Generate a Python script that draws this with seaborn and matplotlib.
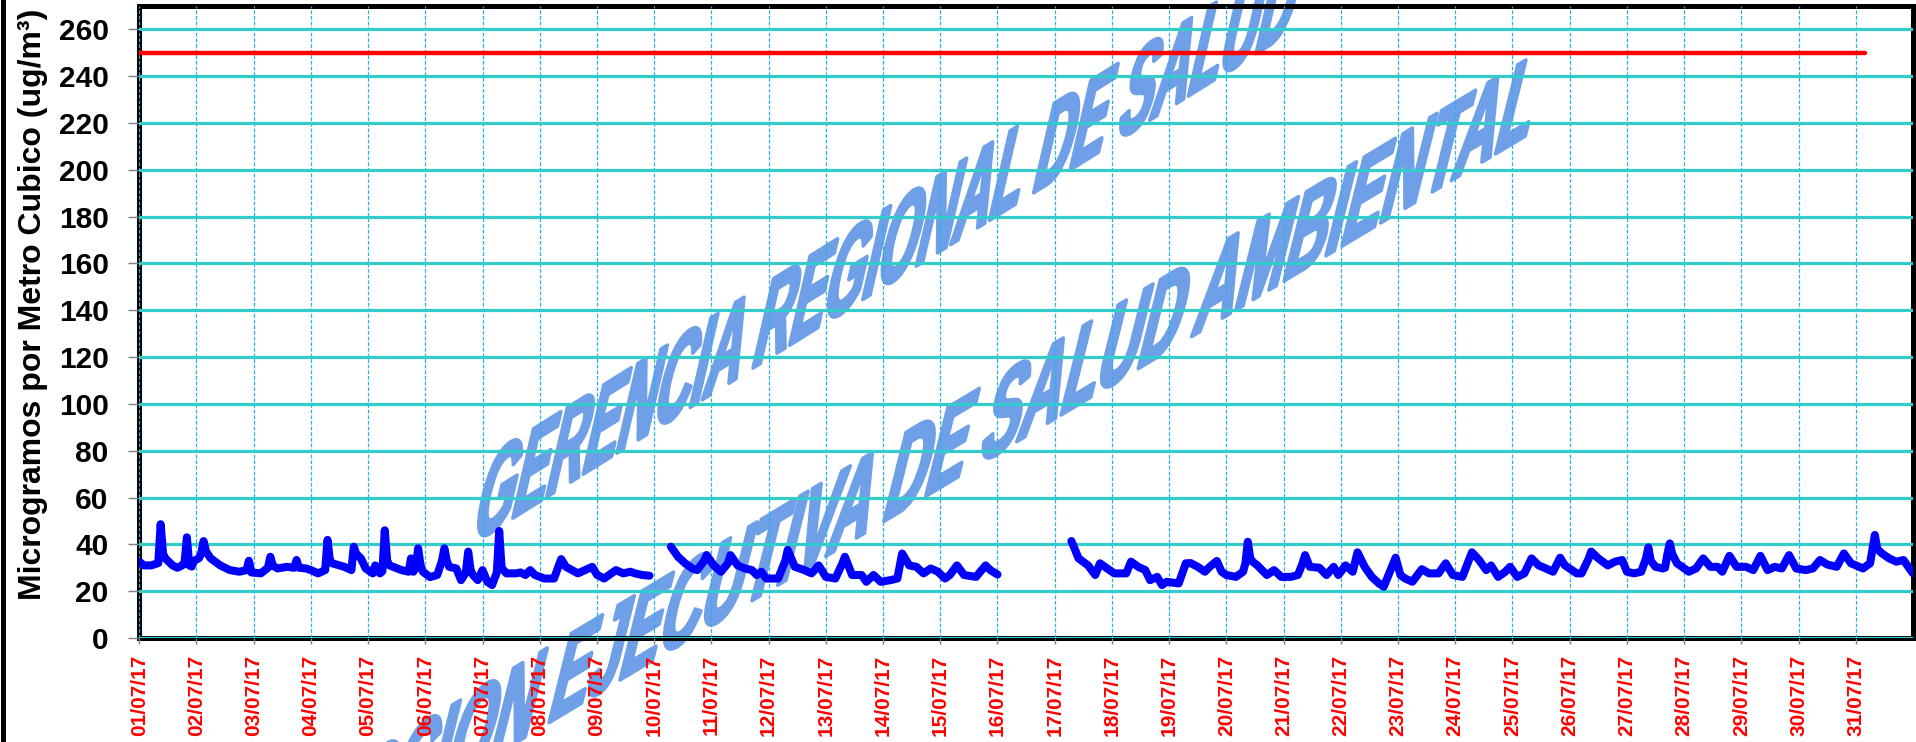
import numpy as np
import pandas as pd
import matplotlib
matplotlib.use("Agg")
import matplotlib.pyplot as plt
import seaborn as sns
from matplotlib.patheffects import AbstractPathEffect
from matplotlib.transforms import Affine2D
from matplotlib.font_manager import FontProperties
from matplotlib.lines import Line2D

# ---------------- data (hour since 01/07/17 00:00, ug/m3) ----------------
seg1_points = [(0, 32.6), (2, 31), (5, 31), (8, 32), (9, 48.6), (10, 36), (11, 34), (14, 31), (16, 30),
               (18, 31), (19, 32), (20, 43), (21, 31), (22, 30.5), (23, 33), (25, 34), (26, 36), (27, 41.4),
               (28, 37), (30, 34), (34, 31), (38, 29), (42, 28.3), (45, 29), (46, 33), (47, 28), (51, 27.6),
               (54, 30), (55, 34.7), (56, 31), (58, 29.7), (62, 30.4), (65, 30), (66, 33.3), (67, 30),
               (70, 29.7), (72, 29), (75, 27.6), (78, 29), (79, 41.9), (80, 33), (81, 31.9), (86, 30.4),
               (89, 29), (90, 39), (91, 36), (93, 34), (95, 29.7), (98, 27.6), (99, 31), (101, 27.6),
               (102, 28.5), (103, 46), (104, 33), (105, 31), (110, 29), (113, 28.3), (114, 34), (115, 28.3),
               (116, 30), (117, 38.3), (118, 31), (119, 28.3), (122, 26), (125, 26.9), (127, 33), (128, 38.3),
               (129, 33), (130, 30.4), (133, 29.7), (135, 24.7), (137, 28), (138, 36.9), (139, 29),
               (140, 26.9), (142, 24.7), (144, 29), (146, 24), (148, 22.6), (150, 28), (151, 45.7), (152, 30),
               (154, 27.6), (158, 27.6), (160, 28), (162, 26.9), (164, 29), (166, 26.9), (170, 25.4),
               (174, 25.4), (176, 31), (177, 33.7), (179, 30.4), (184, 27.6), (187, 29), (190, 30.4),
               (192, 27), (195, 25.4), (200, 29), (203, 27.6), (206, 28.3), (208, 27.6), (211, 26.9),
               (214, 26.6)]
seg2_points = [(223, 39), (226, 34.7), (229, 31.9), (232, 29.7), (234, 29), (237, 33), (238, 35.4), (241, 31),
               (244, 28.3), (247, 32), (248, 35.4), (251, 31), (254, 29.7), (257, 29), (259, 26.9),
               (261, 28.3), (263, 25.4), (268, 25.4), (271, 33), (272, 37.6), (275, 30.4), (279, 29),
               (282, 27.6), (285, 31), (288, 26.1), (292, 25.4), (295, 32), (296, 34.7), (299, 26.9),
               (303, 26.9), (305, 24), (308, 26.9), (311, 24), (315, 24.7), (318, 25.4), (320, 36.1),
               (323, 31), (326, 30.4), (329, 27.6), (332, 29.7), (335, 28.3), (338, 25.4), (340, 26.9),
               (343, 31), (346, 26.9), (351, 26.1), (355, 31), (357, 29), (360, 27.1)]
seg3_points = [(391, 41.4), (392, 39), (394, 34), (398, 31), (401, 26.9), (403, 31.9), (406, 29.7), (409, 27.6),
               (414, 27.6), (416, 32.6), (419, 30.4), (422, 29), (424, 24.7), (427, 26.1), (429, 22.6),
               (431, 24), (436, 23.3), (439, 31.9), (441, 32), (444, 30.4), (447, 28.3), (449, 30.4),
               (452, 32.9), (454, 28.3), (456, 26.9), (460, 26.1), (463, 28.3), (464, 32), (465, 41.1),
               (466, 34), (467, 32.6), (469, 31), (473, 26.9), (476, 29), (479, 26.1), (483, 26.1),
               (486, 26.9), (488, 32), (489, 35.4), (491, 30.4), (495, 30), (498, 26.9), (501, 30.4),
               (503, 26.9), (506, 31), (509, 28.3), (511, 36.6), (514, 30.4), (517, 26.1), (520, 23.3),
               (522, 21.9), (524, 26.9), (526, 32), (527, 34.3), (529, 26.9), (531, 25.4), (534, 24),
               (538, 29.4), (541, 27.6), (545, 27.6), (548, 31.9), (551, 26.9), (555, 26.1), (558, 34),
               (559, 36.6), (562, 33.3), (565, 29), (567, 31), (570, 26.1), (573, 28.3), (575, 30.4),
               (578, 26.1), (581, 27.6), (584, 34), (587, 31), (590, 29.7), (593, 28.3), (596, 34.3),
               (598, 31), (603, 27.6), (605, 27.6), (608, 34), (609, 36.9), (612, 34), (616, 31),
               (619, 32.6), (622, 33.3), (624, 28.3), (627, 27.6), (630, 28.3), (632, 34), (633, 38.7),
               (634, 33), (636, 30.4), (639, 29.7), (640, 30), (641, 36), (642, 40.4), (643, 36),
               (645, 31.9), (650, 28.3), (653, 29.7), (656, 34), (659, 30.4), (662, 30.4), (664, 28.3),
               (667, 35.1), (670, 30.4), (674, 30.4), (677, 29), (680, 35.1), (683, 29), (686, 30.4),
               (689, 29.7), (692, 35.4), (695, 29.7), (699, 29), (702, 29.7), (705, 33.3), (708, 31.4),
               (712, 30.4), (715, 36.1), (718, 31.9), (720, 31), (723, 29.7), (726, 31.9), (727, 38),
               (728, 44), (729, 38), (731, 36.1), (734, 34), (737, 32.6), (740, 33.3), (744, 27.6)]

date_labels = ["01/07/17", "02/07/17", "03/07/17", "04/07/17", "05/07/17", "06/07/17", "07/07/17",
               "08/07/17", "09/07/17", "10/07/17", "11/07/17", "12/07/17", "13/07/17", "14/07/17",
               "15/07/17", "16/07/17", "17/07/17", "18/07/17", "19/07/17", "20/07/17", "21/07/17",
               "22/07/17", "23/07/17", "24/07/17", "25/07/17", "26/07/17", "27/07/17", "28/07/17",
               "29/07/17", "30/07/17", "31/07/17"]
y_ticks = [0, 20, 40, 60, 80, 100, 120, 140, 160, 180, 200, 220, 240, 260]
limit_value = 250
limit_hours = [0, 724]
watermark_lines = ["GERENCIA REGIONAL DE SALUD", "DIRECCION EJECUTIVA DE SALUD AMBIENTAL"]

# ---------------- style ----------------
sns.set_theme(style="white")
plt.rcParams["font.family"] = ["Liberation Sans", "DejaVu Sans"]

frames = []
for i, pts in enumerate([seg1_points, seg2_points, seg3_points]):
    arr = np.array(pts, dtype=float)
    frames.append(pd.DataFrame({"hour": arr[:, 0], "value": arr[:, 1], "segment": i}))
df = pd.concat(frames, ignore_index=True)
df_limit = pd.DataFrame({"hour": limit_hours, "value": [limit_value] * len(limit_hours)})

W, H = 1916, 742
fig = plt.figure(figsize=(W / 100, H / 100), dpi=100)
fig.patch.set_facecolor("white")
ax = fig.add_axes([139.2 / W, 1 - 638 / H, (1913 - 139.2) / W, (638 - 5.8) / H])
ax.set_facecolor("white")

sns.lineplot(data=df, x="hour", y="value", units="segment", estimator=None, sort=False,
             color="#0000ff", linewidth=5.8, solid_capstyle="round", solid_joinstyle="round",
             ax=ax, zorder=3, legend=False)
sns.lineplot(data=df_limit, x="hour", y="value", estimator=None, color="#ff0000",
             linewidth=3.2, ax=ax, zorder=3, legend=False)

ax.set_xlim(0, 744)
ax.set_ylim(0, 270)
day_hours = [24 * i for i in range(len(date_labels))]
ax.set_yticks(y_ticks, labels=[str(t) for t in y_ticks], fontsize=21.5, fontweight="bold", color="black")
ax.set_xticks(day_hours, labels=date_labels, rotation=90, fontsize=15, fontweight="bold", color="#ff0000")
ax.set_xlabel("")

ax.set_axisbelow(False)
ax.yaxis.grid(True, color="#33cccc", linewidth=2.3, linestyle="-")
ax.xaxis.grid(True, color="#29b0ea", linewidth=0.9, linestyle=(0, (3, 1.5)))

ax.tick_params(axis="y", direction="out", length=8, width=1.0, color="#7f7f7f", pad=14, left=True)
ax.tick_params(axis="x", direction="out", length=4, width=1.0, color="#7f7f7f", pad=8, bottom=True)
for s in ax.spines.values():
    s.set_color("black")
    s.set_linewidth(3.6)

ax.set_ylabel("Microgramos por Metro Cubico (ug/m³)", fontsize=23, fontweight="bold", color="black")
ax.yaxis.set_label_coords((48 - 139.2) / 1773.8, 0.528)


# ---------------- watermark (slanted, condensed text) ----------------
class SlantText(AbstractPathEffect):
    def __init__(self, sx, shear, stroke):
        super().__init__()
        self._local = Affine2D(np.array([[sx, shear, 0.0], [0.0, 1.0, 0.0], [0.0, 0.0, 1.0]]))
        self._stroke = stroke

    def draw_path(self, renderer, gc, tpath, affine, rgbFace=None):
        gc0 = renderer.new_gc()
        gc0.copy_properties(gc)
        gc0.set_linewidth(self._stroke)
        gc0.set_foreground(rgbFace)
        gc0.set_joinstyle("round")
        renderer.draw_path(gc0, tpath, self._local + affine, rgbFace)
        gc0.restore()


renderer = fig.canvas.get_renderer()
wm_font = FontProperties(family="Liberation Sans", weight="bold", size=68)
wm_starts = [(470, 545), (204, 930)]
wm_angles = [32, 31]
wm_lengths = [967, 1545]
for text, (px, py), ang, length in zip(watermark_lines, wm_starts, wm_angles, wm_lengths):
    w, h, d = renderer.get_text_width_height_descent(text, wm_font, ismath=False)
    ax.text(px / W, 1 - py / H, text, transform=fig.transFigure, fontproperties=wm_font,
            color="#6f9fe6", rotation=ang, rotation_mode="anchor", ha="left", va="baseline",
            zorder=1, clip_on=False, path_effects=[SlantText(length / w, 1.0, 2.5)])

fig.add_artist(Line2D([2.5 / W, 2.5 / W], [0, 1], transform=fig.transFigure, color="black", linewidth=3.6))

fig.savefig("out.png", dpi=100, facecolor="white")
